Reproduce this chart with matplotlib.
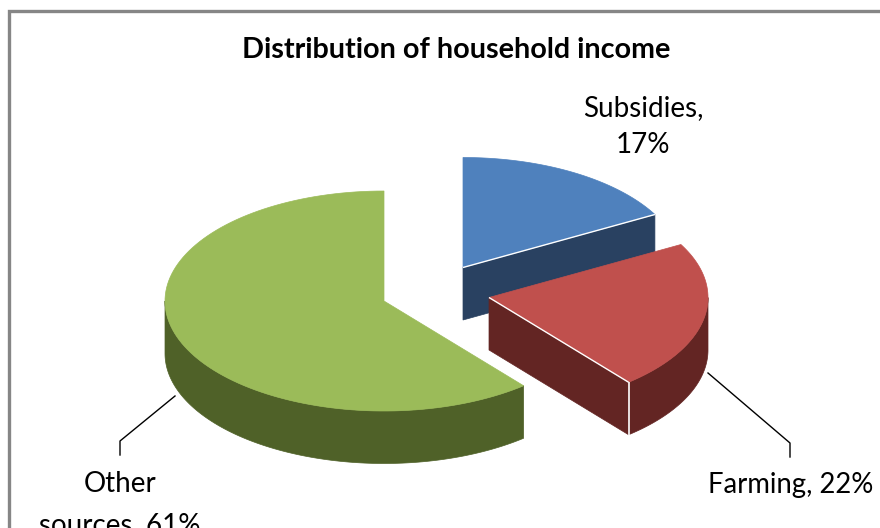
import matplotlib
matplotlib.use('Agg')
import matplotlib.pyplot as plt
import numpy as np
from matplotlib.patches import Polygon

plt.rcParams['font.family'] = ['Lato', 'DejaVu Sans']

# values
categories = ['Subsidies', 'Farming', 'Other sources']
shares = [17, 22, 61]

top_colors = ['#4f81bd', '#c0504d', '#9bbb59']
side_colors = ['#294161', '#632523', '#4f6128']
# exploded centre of each slice, in pixels
centers = [(463, 267.5), (489, 297.5), (384, 301)]

RX, RY = 219, 110
DEPTH = 52.5

fig = plt.figure(figsize=(8.8, 5.28), dpi=100)
ax = fig.add_axes([0, 0, 1, 1])
ax.set_xlim(0, 880)
ax.set_ylim(528, 0)
ax.axis('off')


# angle 0 is straight up, going clockwise
def rim(cx, cy, a0, a1, drop=0):
    t = np.radians(np.linspace(a0, a1, 120))
    return np.column_stack([cx + RX * np.sin(t), cy - RY * np.cos(t) + drop])


edges = np.concatenate([[0], np.cumsum(shares)]) * 3.6

for i in range(len(shares)):
    cx, cy = centers[i]
    a0, a1 = edges[i], edges[i + 1]
    z = 2 + i

    # outer wall, only the part that faces the viewer
    w0, w1 = max(a0, 90), min(a1, 270)
    if w1 > w0:
        wall = np.vstack([rim(cx, cy, w0, w1), rim(cx, cy, w0, w1, DEPTH)[::-1]])
        ax.add_patch(Polygon(wall, closed=True, fc=side_colors[i], ec=side_colors[i], lw=0.5, zorder=z))

    # cut face at the end of the slice, blue and red show it
    if i < 2:
        end = rim(cx, cy, a1, a1)[0]
        face = [(cx, cy), end, (end[0], end[1] + DEPTH), (cx, cy + DEPTH)]
        ax.add_patch(Polygon(face, closed=True, fc=side_colors[i], ec=side_colors[i], lw=0.5, zorder=z))

    # top
    top = np.vstack([[(cx, cy)], rim(cx, cy, a0, a1)])
    ax.add_patch(Polygon(top, closed=True, fc=top_colors[i], ec=top_colors[i], lw=0.5, zorder=z))

    # thin white highlights
    if i < 2:
        ax.plot([cx, end[0]], [cy, end[1]], color='white', lw=1.0, solid_capstyle='butt', zorder=z)
    if i == 1:
        ax.plot([end[0], end[0]], [end[1], end[1] + DEPTH], color='white', lw=1.2, solid_capstyle='butt', zorder=z)

# frame of the chart area
ax.plot([8.5, 8.5, 880], [528, 11, 11], color='#868686', lw=2.4, solid_joinstyle='miter')

# leader lines
ax.plot([175, 120, 120], [396, 441, 455], color='black', lw=1.0)
ax.plot([708, 790, 790], [373, 443, 457], color='black', lw=1.0)

ax.text(456, 49.5, 'Distribution of household income', ha='center', va='center',
        fontsize=20.7, fontweight='bold', color='black')
ax.text(643, 108, f'{categories[0]},', ha='center', va='center', fontsize=20)
ax.text(643, 145, f'{shares[0]}%', ha='center', va='center', fontsize=20)
ax.text(791, 485, f'{categories[1]}, {shares[1]}%', ha='center', va='center', fontsize=19.8)
ax.text(120, 484, 'Other', ha='center', va='center', fontsize=20)
ax.text(120, 525, f'sources, {shares[2]}%', ha='center', va='center', fontsize=20)

fig.savefig('out.png', dpi=100)
